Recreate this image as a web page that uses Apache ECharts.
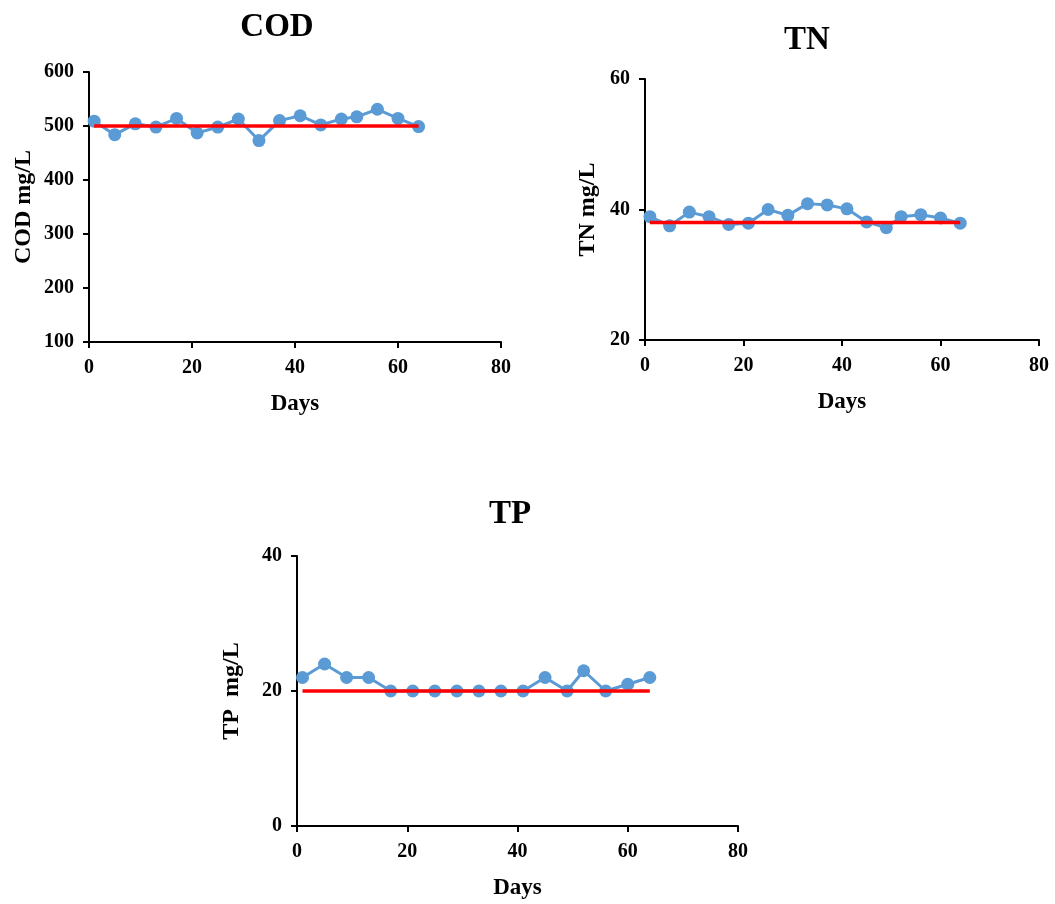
<!DOCTYPE html>
<html>
<head>
<meta charset="utf-8">
<script src="https://cdn.jsdelivr.net/npm/echarts@6/dist/echarts.min.js"></script>
<style>
  html, body { margin: 0; padding: 0; background: #fff; }
  #main { width: 1055px; height: 904px; }
</style>
</head>
<body>
<div id="main"></div>
<script>
// sampling days (shared by all three panels)
var days = [1, 5, 9, 13, 17, 21, 25, 29, 33, 37, 41, 45, 49, 52, 56, 60, 64];

// measured values
var codValues = [509, 484, 504, 498, 514, 487, 498, 513, 473, 510, 519, 502, 513, 517, 531, 514, 499];
var tnValues = [38.9, 37.5, 39.6, 38.9, 37.7, 37.9, 40.0, 39.1, 40.9, 40.7, 40.1, 38.1, 37.2, 38.9, 39.2, 38.7, 37.9];
var tpValues = [22, 24, 22, 22, 20, 20, 20, 20, 20, 20, 20, 22, 20, 23, 20, 21, 22];

// reference (design) levels
var codRef = 500;
var tnRef = 38;
var tpRef = 20;

var dom = document.getElementById('main');
var myChart = echarts.init(dom);

var font = 'Liberation Serif';
var blue = '#5B9BD5';

function pairs(xs, ys) {
	return xs.map(function (x, i) { return [x, ys[i]]; });
}
function refLine(v) {
	return [[days[0], v], [days[days.length - 1], v]];
}

function xAxisOf(idx) {
	return {
		gridIndex: idx,
		type: 'value',
		min: 0,
		max: 80,
		interval: 20,
		name: 'Days',
		nameLocation: 'middle',
		nameGap: 51,
		nameTextStyle: { fontFamily: font, fontWeight: 'bold', fontSize: 23, color: '#000' },
		axisLine: { onZero: false, lineStyle: { color: '#000', width: 2 } },
		axisTick: { length: 6, lineStyle: { color: '#000', width: 2 } },
		axisLabel: { fontFamily: font, fontWeight: 'bold', fontSize: 20, color: '#000', margin: 16 },
		splitLine: { show: false }
	};
}
function yAxisOf(idx, name, min, max, interval, gap) {
	return {
		gridIndex: idx,
		type: 'value',
		min: min,
		max: max,
		interval: interval,
		name: name,
		nameLocation: 'middle',
		nameGap: gap,
		nameTextStyle: { fontFamily: font, fontWeight: 'bold', fontSize: 24, color: '#000' },
		axisLine: { show: true, lineStyle: { color: '#000', width: 2 } },
		axisTick: { show: true, length: 6, lineStyle: { color: '#000', width: 2 } },
		axisLabel: { fontFamily: font, fontWeight: 'bold', fontSize: 20, color: '#000', margin: 15 },
		splitLine: { show: false }
	};
}
function dataSeries(idx, values) {
	return {
		type: 'line',
		xAxisIndex: idx,
		yAxisIndex: idx,
		data: pairs(days, values),
		symbol: 'circle',
		symbolSize: 13,
		lineStyle: { color: blue, width: 3 },
		itemStyle: { color: blue },
		z: 2
	};
}
function refSeries(idx, v) {
	return {
		type: 'line',
		xAxisIndex: idx,
		yAxisIndex: idx,
		data: refLine(v),
		symbol: 'none',
		lineStyle: { color: '#FF0000', width: 3.5 },
		z: 3
	};
}

var titleStyle = { fontFamily: font, fontWeight: 'bold', fontSize: 33, color: '#000' };

option = {
	backgroundColor: '#fff',
	animation: false,
	title: [
		{ text: 'COD', left: 272, top: 6, textAlign: 'center', textStyle: titleStyle },
		{ text: 'TN', left: 802, top: 19, textAlign: 'center', textStyle: titleStyle },
		{ text: 'TP', left: 505, top: 493, textAlign: 'center', textStyle: titleStyle }
	],
	grid: [
		{ left: 89, top: 72, width: 412, height: 270 },
		{ left: 645, top: 79, width: 394, height: 261 },
		{ left: 297, top: 556, width: 441, height: 270 }
	],
	xAxis: [xAxisOf(0), xAxisOf(1), xAxisOf(2)],
	yAxis: [
		yAxisOf(0, 'COD mg/L', 100, 600, 100, 53),
		yAxisOf(1, 'TN mg/L', 20, 60, 20, 45),
		yAxisOf(2, 'TP  mg/L', 0, 40, 20, 53)
	],
	series: [
		dataSeries(0, codValues), refSeries(0, codRef),
		dataSeries(1, tnValues), refSeries(1, tnRef),
		dataSeries(2, tpValues), refSeries(2, tpRef)
	]
};

myChart.setOption(option, true);
window.addEventListener('resize', function () {
	myChart.resize();
});
</script>
</body>
</html>
